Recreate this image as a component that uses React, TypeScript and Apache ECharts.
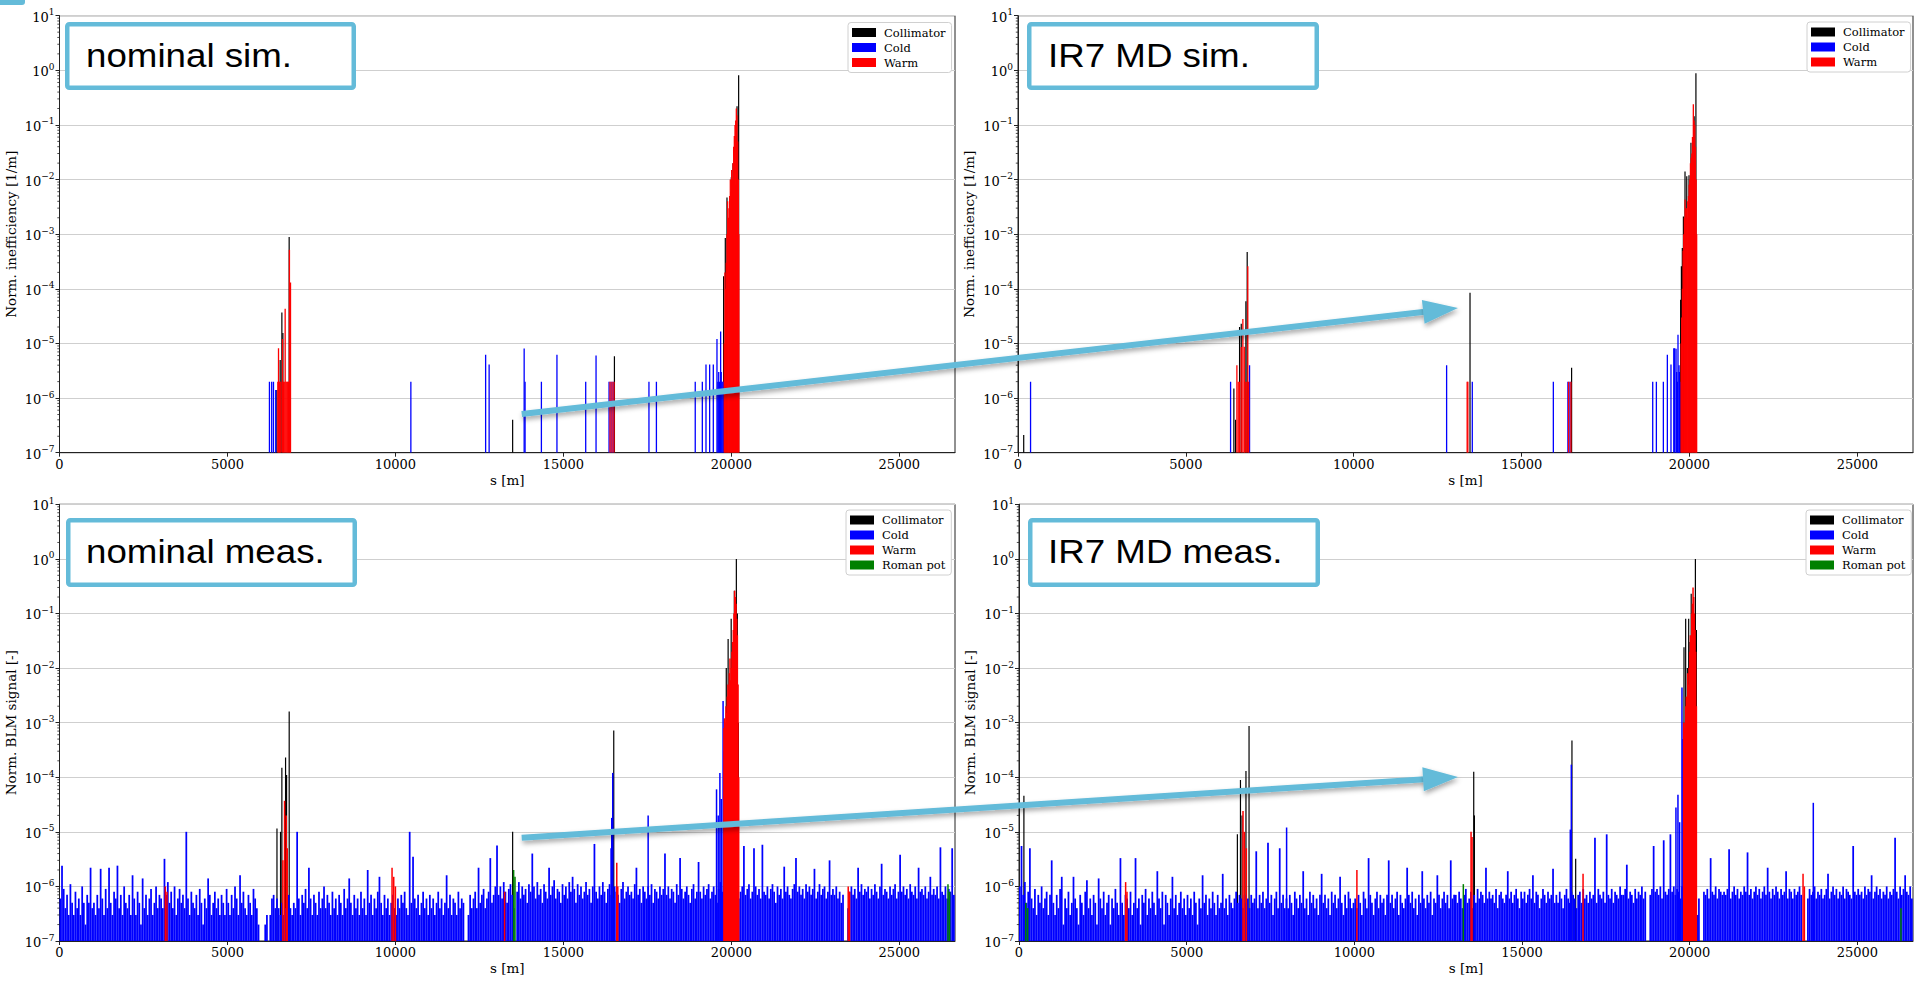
import { useEffect, useRef } from 'react';
import * as echarts from 'echarts';

// ---------------- axis ranges ----------------
const S_MAX = 26659; // LHC circumference [m]
const Y_MIN = 1e-7;
const Y_MAX = 10;
const X_TICKS = [0, 5000, 10000, 15000, 20000, 25000];

const NAMES_SIM = ['Collimator', 'Cold', 'Warm'];
const NAMES_MEAS = ['Collimator', 'Cold', 'Warm', 'Roman pot'];

// ---------------- nominal sim. ----------------
const nomSimCollimator = [[6470,1.4e-6],[6570,5e-6],[6620,3.7e-5],[6650,1.55e-5],[6837,8.9e-4],[13490,4e-7],[16520,5.8e-6],[19771,1.7e-4],[19821,8.5e-4],[19871,4.7e-3],[19950,3e-3],[20000,1.1e-2],[20050,2e-2],[20110,8e-3],[20170,0.22],[20218,0.81]];
const nomSimCold = [[6250,2e-6],[6317,2e-6],[6370,2e-6],[6437,1.4e-6],[10460,2e-6],[12686,6.2e-6],[12790,4.1e-6],[13833,8.1e-6],[13860,2e-6],[14346,2e-6],[14809,6.2e-6],[15665,2e-6],[15973,6e-6],[16360,2e-6],[16420,2e-6],[16480,2e-6],[17548,2e-6],[17770,2e-6],[18926,2e-6],[19137,2e-6],[19246,4.1e-6],[19355,4.1e-6],[19464,4.1e-6],[19573,1.2e-5],[19600,2e-6],[19625,3e-6],[19650,2e-6],[19682,1.66e-5],[19700,3e-6],[19725,2e-6],[19750,2e-6],[19775,2e-6]];
const nomSimWarm = [[6500,2e-6],[6520,8.2e-6],[6545,2e-6],[6570,2e-6],[6595,2e-6],[6640,1.2e-5],[6665,2e-6],[6690,2e-6],[6718,4.3e-5],[6745,2e-6],[6770,2e-6],[6795,2e-6],[6815,2e-6],[6845,5.2e-4],[6865,2e-6],[6877,1.3e-4],[16390,2e-6],[16450,2e-6],[16510,2e-6],[19790,1e-5],[19810,2e-4],[19830,1e-4],[19850,3e-4],[19870,1e-3],[19890,4e-3],[19910,2e-3],[19930,3e-3],[19950,5e-3],[19970,1e-2],[19990,6e-3],[20010,1.5e-2],[20030,1e-2],[20050,2e-2],[20070,4e-2],[20090,6.3e-2],[20110,0.1],[20130,0.12],[20149,0.2],[20170,0.15],[20190,0.05],[20210,1e-2],[20225,1e-3]];

// ---------------- IR7 MD sim. ----------------
const mdSimCollimator = [[170,2.1e-7],[6430,1.5e-6],[6480,4e-7],[6600,2e-5],[6650,2.3e-5],[6788,5.9e-5],[6827,4.7e-4],[13464,8.5e-5],[16490,3.6e-6],[19738,6.3e-5],[19760,2.6e-4],[19788,5.6e-4],[19820,2.1e-3],[19868,1.4e-2],[19920,1.15e-2],[19987,1.2e-2],[20045,4.7e-2],[20140,0.145],[20193,0.88]];
const mdSimCold = [[374,2e-6],[6332,2e-6],[6897,4e-6],[12767,4e-6],[13532,2e-6],[15946,2e-6],[16380,2e-6],[16440,2e-6],[18906,2e-6],[19015,2e-6],[19223,2e-6],[19342,6.2e-6],[19450,4.1e-6],[19533,8.2e-6],[19560,8.2e-6],[19601,8e-6],[19620,3e-6],[19640,2e-6],[19659,1.45e-5],[19690,4e-6],[19700,3e-6],[19720,2e-6]];
const mdSimWarm = [[6520,4e-6],[6560,2e-6],[6600,2e-6],[6650,8.6e-6],[6698,2.8e-5],[6740,8.7e-6],[6760,2e-6],[6800,2e-6],[6845,2.6e-4],[6870,2e-6],[13379,2e-6],[13400,2e-6],[16400,2e-6],[16470,2e-6],[19750,1e-5],[19770,3e-5],[19790,1e-4],[19810,5e-4],[19830,1e-3],[19850,2e-3],[19870,4.3e-3],[19890,3e-3],[19910,3e-3],[19930,2e-3],[19950,4e-3],[19970,5e-3],[19990,8e-3],[20010,1e-2],[20030,2e-2],[20050,2.5e-2],[20070,3e-2],[20090,6e-2],[20116,0.24],[20140,0.12],[20160,0.1],[20180,0.04],[20200,1e-2],[20215,1e-3]];

// ---------------- measured BLM background (cold), read every 50 m, in units of 1e-7 ----------------
const NOISE_BIN = 50;
const NOISE_UNIT = 1e-7;
const nomMeasColdBackground = [
  6,24,9,4,7,3,11,5,3,8,4,6,3,10,5,2,7,5,22,4,
  5,3,7,4,21,6,3,9,4,22,5,3,8,6,24,4,7,3,10,5,
  4,7,3,16,6,3,8,5,2,14,4,7,3,6,9,3,5,10,4,7,
  6,4,32,7,12,5,8,4,10,3,6,9,5,7,4,100,6,3,8,5,
  4,7,3,9,5,2,6,4,14,7,3,5,8,4,6,3,7,5,3,9,
  5,3,7,4,10,6,3,16,5,8,4,3,7,5,3,9,6,4,2,0,
  0,0,2,3,0,3,6,7,4,6,4,3,5,3,4,6,7,4,3,5,
  4,100,6,3,7,5,9,4,22,6,3,7,5,3,8,4,6,10,4,7,
  5,3,8,4,6,3,7,5,3,9,4,6,14,5,3,7,4,6,3,8,
  4,6,3,20,5,7,3,6,4,8,15,5,3,7,4,6,3,5,7,4,
  3,6,4,7,5,8,4,3,100,5,35,6,4,7,3,5,8,4,6,3,
  7,4,6,3,5,8,4,6,3,5,16,4,7,3,6,5,3,8,4,6,
  5,0,0,3,7,4,6,8,4,22,5,7,9,4,6,8,33,5,7,10,
  56,7,10,6,12,8,5,9,11,7,4,0,8,12,6,10,7,9,5,11,
  8,40,10,6,12,7,9,5,11,8,6,22,7,10,13,6,9,8,5,11,
  7,10,6,12,8,15,9,5,11,7,10,6,8,12,7,9,5,10,60,8,
  6,10,7,12,8,5,9,11,7,6,10,8,7,5,9,12,6,8,10,7,
  8,6,11,22,7,9,5,10,8,6,10,7,11,5,9,8,6,10,7,9,
  40,7,10,6,9,8,5,11,7,33,9,6,8,10,7,5,9,11,6,8,
  28,8,6,10,7,9,11,6,8,10,7,5,9,12,8,10,7,6,4,3,
  3,3,4,3,6,8,10,55,7,9,11,6,8,50,10,7,9,6,58,8,
  7,10,6,9,11,8,5,10,7,9,6,23,8,10,7,6,9,11,33,8,
  10,7,9,6,11,8,10,7,9,21,6,8,11,7,9,10,6,8,30,7,
  9,7,10,6,8,5,7,0,0,4,8,10,7,9,6,22,8,11,7,9,
  8,10,6,9,7,11,8,6,10,26,7,9,8,6,10,7,9,11,6,8,
  38,8,10,7,9,6,11,8,7,10,6,22,8,9,7,10,6,8,15,7,
  9,7,10,6,52,8,7,10,6,9,8,50,7,
];
const mdMeasColdBackground = [
  10,55,7,12,5,8,50,6,4,9,3,7,5,10,4,6,8,3,7,30,
  5,3,7,4,9,15,2,6,4,8,3,5,15,6,4,2,7,5,3,8,
  13,4,6,3,7,5,2,14,6,4,8,3,5,7,2,6,4,9,5,3,
  33,5,3,7,6,4,8,3,5,33,4,6,2,7,5,9,3,6,4,8,
  5,3,19,6,4,8,2,7,5,3,6,15,4,7,3,5,8,4,6,3,
  7,4,6,3,8,5,2,6,4,16,5,7,3,6,4,8,5,3,7,4,
  5,17,4,6,3,7,5,4,6,8,5,7,6,4,7,5,6,4,7,5,
  6,44,4,7,5,8,4,6,63,5,7,3,6,8,4,50,5,7,4,6,
  4,7,5,3,8,6,4,7,5,19,4,6,3,8,5,7,4,6,3,7,
  17,5,7,4,6,3,8,5,7,4,6,15,5,3,7,4,8,6,4,5,
  6,4,7,5,3,8,6,4,33,7,5,3,6,8,4,7,5,6,3,7,
  30,5,7,4,6,8,3,7,5,4,6,22,7,5,8,4,6,3,7,5,
  19,6,4,7,5,8,3,6,5,16,7,4,6,8,5,7,4,30,6,7,
  7,5,8,6,4,7,9,5,6,8,4,7,5,9,6,8,7,5,22,6,
  8,6,7,5,9,4,7,8,6,5,7,19,6,8,5,7,9,6,4,8,
  6,8,5,7,9,6,16,5,8,7,4,6,9,7,5,8,6,7,21,5,
  7,5,8,6,4,7,9,6,5,8,7,6,4,7,8,5,9,6,7,5,
  8,6,7,78,5,9,7,6,8,5,90,7,6,9,5,8,7,6,10,7,
  7,9,25,6,8,7,5,9,6,8,7,10,6,8,0,0,7,9,55,8,
  9,7,10,6,70,8,7,9,90,8,10,7,9,8,6,10,7,5,4,3,
  3,3,3,4,3,6,0,0,8,7,9,6,33,8,7,10,6,9,8,7,
  8,7,9,48,6,8,10,7,9,6,8,7,10,8,42,7,9,6,8,10,
  7,9,6,8,10,7,22,8,6,9,7,10,8,6,9,7,8,19,6,9,
  8,6,9,7,8,10,7,0,0,0,6,9,7,8,10,6,8,7,9,6,
  7,9,17,6,8,10,7,9,6,8,7,10,6,9,8,7,6,55,8,7,
  9,7,8,6,10,7,9,8,16,6,8,10,7,9,6,8,7,10,6,8,
  7,9,78,8,6,10,7,9,16,8,7,10,6,
];

// ---------------- nominal meas. (named elements) ----------------
const nomMeasCollimator = [[6474,1.15e-5],[6580,1e-5],[6620,1.5e-4],[6730,2.3e-4],[6760,1.1e-4],[6838,1.6e-3],[13490,1e-5],[16500,7.2e-4],[19850,1e-2],[19905,3.4e-2],[19950,5e-3],[19996,8e-2],[20040,2e-2],[20090,0.26],[20120,0.05],[20150,1.0],[20180,0.1],[20210,1e-3]];
const nomMeasCold = [[16420,5e-6],[16440,1.8e-5],[16470,1.2e-4],[17524,2e-5],[19560,6e-5],[19610,2e-5],[19660,1.2e-4],[19700,4e-5],[19755,2.5e-3],[19780,3e-4]];
const nomMeasWarm = [[3150,1e-6],[3200,8e-7],[6650,3e-6],[6700,3.7e-5],[6750,2e-5],[6780,5e-6],[9900,2.2e-6],[9950,1.5e-6],[10000,1e-6],[13250,8e-7],[16590,2.7e-6],[16620,1e-6],[19780,8e-4],[19800,1.2e-3],[19820,1e-3],[19840,2e-3],[19860,1.5e-3],[19880,3e-3],[19900,5e-3],[19920,4e-3],[19940,8e-3],[19960,1.5e-2],[19980,6e-3],[20000,1e-2],[20020,2e-2],[20040,3e-2],[20060,5e-2],[20080,0.1],[20100,0.26],[20120,0.2],[20140,0.15],[20160,0.08],[20180,0.04],[20200,5e-3],[20220,1e-4],[23480,1e-6],[23520,8e-7]];
const nomMeasRomanPot = [[13520,2e-6],[13560,1.5e-6],[26450,1.1e-6],[26500,8e-7]];

// ---------------- IR7 MD meas. (named elements) ----------------
const mdMeasCollimator = [[146,4.6e-5],[6512,9e-6],[6604,8.9e-5],[6650,2e-5],[6768,1.3e-4],[6860,8.7e-4],[13560,1.26e-4],[13580,2e-5],[16489,4.7e-4],[16600,3.2e-6],[19830,2.4e-2],[19880,8e-2],[19930,1e-2],[19970,8e-2],[20010,3e-2],[20045,0.23],[20100,0.1],[20170,1.0],[20200,0.05]];
const mdMeasCold = [[7980,1.2e-5],[16440,1.1e-5],[16470,1.7e-4],[19590,2.8e-5],[19650,4.8e-5],[19700,1.5e-5],[19770,4.4e-3],[19800,5e-4],[23686,3.4e-5]];
const mdMeasWarm = [[3180,1.2e-6],[3220,8e-7],[6680,2.4e-5],[6720,1e-5],[6780,5e-6],[10076,2e-6],[13480,1e-5],[13510,8e-6],[16820,1.7e-6],[19820,1e-3],[19840,8e-4],[19860,1e-3],[19880,2e-3],[19900,3e-3],[19920,2e-3],[19940,8e-3],[19960,5e-3],[19980,1e-2],[20000,2e-2],[20020,4e-2],[20040,3e-2],[20060,0.1],[20080,0.15],[20100,0.3],[20120,0.2],[20140,0.1],[20160,0.05],[20180,2e-2],[20200,2e-3],[23380,1.7e-6],[23420,1e-6]];
const mdMeasRomanPot = [[200,5e-7],[260,4e-7],[13250,1.1e-6],[26300,4e-7]];

// ---------------- styling ----------------
const COLORS: Record<string, string> = { Collimator: '#000000', Cold: '#0000ff', Warm: '#ff0000', 'Roman pot': '#008000' };
const ACCENT = '#64bbd9';
const SERIF = 'DejaVu Serif';
const SANS = 'Liberation Sans';

type Panel = {
  grid: { left: number; top: number; width: number; height: number };
  yName: string;
  legend: { left: number; top: number };
  names: string[];
  collimator: number[][];
  cold: number[][];
  warm: number[][];
  roman?: number[][];
  background?: number[];
  box: { x: number; y: number; w: number; h: number; tx: number; ty: number; text: string };
};

const panels: Panel[] = [
  {
    grid: { left: 59.5, top: 15.7, width: 895.5, height: 437 },
    yName: 'Norm. inefficiency [1/m]',
    legend: { left: 848, top: 22.5 },
    names: NAMES_SIM,
    collimator: nomSimCollimator, cold: nomSimCold, warm: nomSimWarm,
    box: { x: 65, y: 22, w: 291, h: 68, tx: 86, ty: 55, text: 'nominal sim.' },
  },
  {
    grid: { left: 1018, top: 15.7, width: 895, height: 437 },
    yName: 'Norm. inefficiency [1/m]',
    legend: { left: 1807, top: 22 },
    names: NAMES_SIM,
    collimator: mdSimCollimator, cold: mdSimCold, warm: mdSimWarm,
    box: { x: 1027, y: 22, w: 292, h: 68, tx: 1048, ty: 55, text: 'IR7 MD sim.' },
  },
  {
    grid: { left: 59.5, top: 504.3, width: 895.5, height: 436.7 },
    yName: 'Norm. BLM signal [-]',
    legend: { left: 846, top: 510 },
    names: NAMES_MEAS,
    collimator: nomMeasCollimator, cold: nomMeasCold, warm: nomMeasWarm, roman: nomMeasRomanPot,
    background: nomMeasColdBackground,
    box: { x: 66, y: 518, w: 291, h: 69, tx: 86, ty: 551, text: 'nominal meas.' },
  },
  {
    grid: { left: 1019, top: 504.3, width: 894, height: 436.7 },
    yName: 'Norm. BLM signal [-]',
    legend: { left: 1806, top: 510 },
    names: NAMES_MEAS,
    collimator: mdMeasCollimator, cold: mdMeasCold, warm: mdMeasWarm, roman: mdMeasRomanPot,
    background: mdMeasColdBackground,
    box: { x: 1028, y: 518, w: 292, h: 69, tx: 1048, ty: 551, text: 'IR7 MD meas.' },
  },
];

// minor log ticks (2..9 x 10^k) for the y axes
const MINOR_TICKS: number[][] = [];
for (let e = -7; e < 1; e++) for (let m = 2; m <= 9; m++) MINOR_TICKS.push([0, m * Math.pow(10, e)]);

function barRenderer(widthPx: number) {
  return (_params: any, api: any) => {
    const s = api.value(0);
    const v = api.value(1);
    if (!(v > Y_MIN)) return null;
    const top = api.coord([s, v]);
    const base = api.coord([s, Y_MIN]);
    return {
      type: 'rect',
      shape: { x: top[0] - widthPx / 2, y: top[1], width: widthPx, height: base[1] - top[1] },
      style: { fill: api.visual('color') },
    };
  };
}

function minorTickRenderer(_params: any, api: any) {
  const p = api.coord([0, api.value(1)]);
  return {
    type: 'line',
    shape: { x1: p[0] - 2.2, y1: p[1], x2: p[0], y2: p[1] },
    style: { stroke: '#222', lineWidth: 0.8 },
  };
}

function barSeries(name: string, data: number[][], idx: number, width: number) {
  return {
    type: 'custom',
    name,
    xAxisIndex: idx,
    yAxisIndex: idx,
    data,
    encode: { x: 0, y: 1 },
    clip: true,
    silent: true,
    itemStyle: { color: COLORS[name] },
    renderItem: barRenderer(width),
  };
}

function supLabel(v: number) {
  const e = Math.round(Math.log10(v));
  const t = e < 0 ? '\u2212' + String(-e) : String(e);
  return '{b|10}{s|' + t + '}';
}

function arrow(x0: number, y0: number, x1: number, y1: number) {
  const dx = x1 - x0, dy = y1 - y0;
  const len = Math.sqrt(dx * dx + dy * dy);
  const ux = dx / len, uy = dy / len;
  const headLen = 35, half = 12;
  const bx = x1 - ux * headLen, by = y1 - uy * headLen;
  const px = -uy, py = ux;
  const shadow = { shadowBlur: 5, shadowColor: 'rgba(0,0,0,0.35)', shadowOffsetX: 1, shadowOffsetY: 3 };
  return [
    { type: 'line', z: 100, shape: { x1: x0, y1: y0, x2: bx + ux * 2, y2: by + uy * 2 }, style: { stroke: ACCENT, lineWidth: 6, ...shadow } },
    { type: 'polygon', z: 101, shape: { points: [[x1, y1], [bx + px * half, by + py * half], [bx - px * half, by - py * half]] }, style: { fill: ACCENT, ...shadow } },
  ];
}

export default function App() {
  const ref = useRef<HTMLDivElement>(null);
  useEffect(() => {
    if (!ref.current) return;
    const chart = echarts.init(ref.current, null, { renderer: 'svg' });

    const grids = panels.map((p) => ({
      left: p.grid.left, top: p.grid.top, width: p.grid.width, height: p.grid.height,
      show: true, borderColor: '#222', borderWidth: 1, backgroundColor: '#fff', containLabel: false,
    }));

    const xAxes = panels.map((_p, i) => ({
      type: 'value', gridIndex: i, min: 0, max: S_MAX,
      name: 's [m]', nameLocation: 'middle', nameGap: 20,
      nameTextStyle: { fontFamily: SERIF, fontSize: 13.5, color: '#000' },
      axisLine: { show: true, lineStyle: { color: '#222', width: 1 } },
      axisTick: { show: true, length: 4, lineStyle: { color: '#222' }, customValues: X_TICKS },
      axisLabel: {
        customValues: X_TICKS, margin: 5, fontFamily: SERIF, fontSize: 13, color: '#000',
        formatter: (v: number) => String(Math.round(v)),
      },
      splitLine: { show: false },
    }));

    const yAxes = panels.map((p, i) => ({
      type: 'log', logBase: 10, gridIndex: i, min: Y_MIN, max: Y_MAX, splitNumber: 8,
      name: p.yName, nameLocation: 'middle', nameGap: 42, nameRotate: 90,
      nameTextStyle: { fontFamily: SERIF, fontSize: 13.5, color: '#000' },
      axisLine: { show: true, lineStyle: { color: '#222', width: 1 } },
      axisTick: { show: true, length: 4, lineStyle: { color: '#222' } },
      axisLabel: {
        margin: 5, formatter: supLabel, color: '#000', fontFamily: SERIF,
        rich: {
          b: { fontFamily: SERIF, fontSize: 13, lineHeight: 16, verticalAlign: 'bottom', color: '#000' },
          s: { fontFamily: SERIF, fontSize: 9, lineHeight: 16, verticalAlign: 'top', color: '#000' },
        },
      },
      splitLine: { show: true, lineStyle: { color: '#cfcfcf', width: 1.2 } },
    }));

    const series: any[] = [];
    panels.forEach((p, i) => {
      const w = p.background ? 1.5 : 1.3;
      series.push(barSeries('Collimator', p.collimator, i, 1.2));
      if (p.background) {
        const bg = p.background.map((u, k) => [k * NOISE_BIN + NOISE_BIN / 2, u * NOISE_UNIT]);
        series.push(barSeries('Cold', bg, i, 1.75));
      }
      series.push(barSeries('Cold', p.cold, i, w));
      series.push(barSeries('Warm', p.warm, i, w));
      if (p.roman) series.push(barSeries('Roman pot', p.roman, i, w));
      series.push({
        type: 'custom', name: 'minor-ticks', xAxisIndex: i, yAxisIndex: i, silent: true, clip: false,
        data: MINOR_TICKS, encode: { x: 0, y: 1 }, renderItem: minorTickRenderer,
      });
    });

    const legends = panels.map((p) => ({
      orient: 'vertical', left: p.legend.left, top: p.legend.top,
      data: p.names, icon: 'rect', itemWidth: 24, itemHeight: 9, itemGap: 3,
      padding: [4, 6, 4, 4], backgroundColor: '#fff', borderColor: '#d0d0d0', borderWidth: 1, borderRadius: 3,
      textStyle: { fontFamily: SERIF, fontSize: 11.5, color: '#000', padding: [0, 0, 0, 3] },
      selectedMode: false,
    }));

    const graphics: any[] = [
      { type: 'rect', z: 100, shape: { x: 0, y: 0, width: 25, height: 5, r: [0, 0, 3, 0] }, style: { fill: ACCENT } },
    ];
    panels.forEach((p) => {
      const b = p.box;
      graphics.push({
        type: 'rect', z: 90,
        shape: { x: b.x + 2.25, y: b.y + 2.25, width: b.w - 4.5, height: b.h - 4.5, r: 2 },
        style: { fill: '#fff', stroke: ACCENT, lineWidth: 4.5 },
      });
      graphics.push({
        type: 'text', z: 91, x: b.tx, y: b.ty, scaleX: 1.08,
        style: { text: b.text, fontFamily: SANS, fontSize: 34, fill: '#000', verticalAlign: 'middle', align: 'left' },
      });
    });
    graphics.push(...arrow(521.7, 414, 1458, 308));
    graphics.push(...arrow(521.7, 837.7, 1458, 777));

    chart.setOption({
      animation: false,
      backgroundColor: '#fff',
      grid: grids,
      xAxis: xAxes,
      yAxis: yAxes,
      legend: legends,
      series,
      graphic: graphics,
    });
    return () => chart.dispose();
  }, []);

  return <div ref={ref} style={{ position: 'fixed', left: 0, top: 0, width: 1915, height: 982, background: '#fff' }} />;
}
